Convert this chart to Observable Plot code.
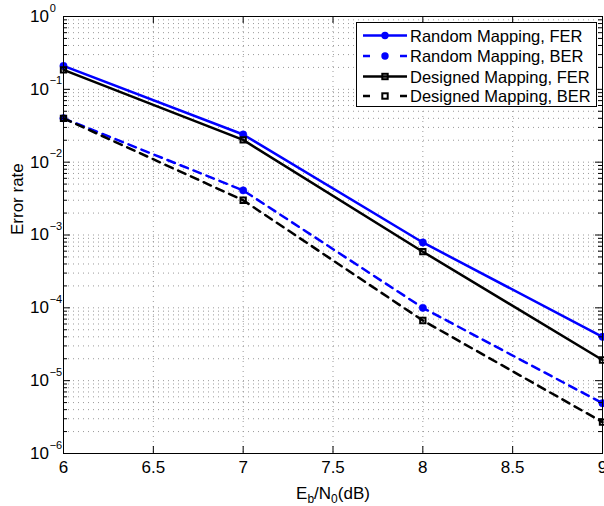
<!DOCTYPE html>
<html>
<head>
<meta charset="utf-8">
<script src="https://cdn.jsdelivr.net/npm/d3@7"></script>
<script src="https://cdn.jsdelivr.net/npm/@observablehq/plot@0.6"></script>
<style>
  html, body { margin: 0; padding: 0; background: white; }
  #wrap { position: relative; width: 604px; height: 506px; font-family: 'Liberation Sans', Arial, sans-serif; }
  #legend { position: absolute; left: 356px; top: 22px; width: 241px; height: 85px; box-sizing: border-box;
            border: 1px solid #000; background: #fff; }
  #legend svg { position: absolute; left: 0; top: 0; }
  .lg { position: absolute; left: 53px; font-size: 16.5px; line-height: 20px; white-space: nowrap; color: #000; }
  #xlabel { position: absolute; left: 233px; width: 200px; top: 485px; height: 21px; text-align: center; font-size: 17px; line-height: 17px; color: #000; white-space: nowrap; }
  #xlabel .sb { font-size: 12px; vertical-align: -4px; line-height: 12px; }
</style>
</head>
<body>
<div id="wrap"></div>
<script>
// ---- data ----
const ebn0 = [6, 7, 8, 9];
const randomFER   = [0.21, 0.024, 7.9e-4, 4.0e-5];
const randomBER   = [0.040, 0.0041, 1.0e-4, 4.9e-6];
const designedFER = [0.185, 0.0202, 5.9e-4, 1.92e-5];
const designedBER = [0.040, 0.0030, 6.7e-5, 2.7e-6];

const seriesNames = ["Random Mapping, FER", "Random Mapping, BER", "Designed Mapping, FER", "Designed Mapping, BER"];

const xTicks = [6, 6.5, 7, 7.5, 8, 8.5, 9];
const xTickLabels = ["6", "6.5", "7", "7.5", "8", "8.5", "9"];
const yExponents = [0, -1, -2, -3, -4, -5, -6];
const yTickLabelBase = "10";

// ---- layout ----
const W = 604, H = 506, mL = 63, mR = 2, mT = 16, mB = 53;
const frameW = W - mL - mR, frameH = H - mT - mB;

const yMajor = yExponents.map(e => Math.pow(10, e));
const yMinor = [];
for (const e of yExponents) if (e < 0) for (let m = 2; m <= 9; m++) yMinor.push(m * Math.pow(10, e));

const mk = (vals, s) => ebn0.map((x, i) => ({series: s, x, y: vals[i]}));
const rFER = mk(randomFER, seriesNames[0]);
const rBER = mk(randomBER, seriesNames[1]);
const dFER = mk(designedFER, seriesNames[2]);
const dBER = mk(designedBER, seriesNames[3]);

const blue = "#0000ff", black = "#000000";
const gridStyle = {stroke: "#9a9a9a", strokeOpacity: 1, strokeWidth: 1, strokeDasharray: "1,4"};
const supText = e => e === 0 ? "0" : "\u2212" + (-e);

const chart = Plot.plot({
  width: W, height: H,
  marginLeft: mL, marginRight: mR, marginTop: mT, marginBottom: mB,
  style: {fontFamily: "'Liberation Sans', Arial, sans-serif", background: "white", color: "black", overflow: "visible"},
  x: {domain: [6, 9], axis: null},
  y: {type: "log", domain: [1e-6, 1], axis: null},
  marks: [
    Plot.gridX(xTicks.slice(1, -1), gridStyle),
    Plot.gridY(yMinor.concat(yMajor.slice(1, -1)), gridStyle),
    // series
    Plot.line(rFER, {x: "x", y: "y", stroke: blue, strokeWidth: 2.5}),
    Plot.dot(rFER, {x: "x", y: "y", r: 3.7, fill: blue, stroke: blue, strokeWidth: 0.5}),
    Plot.line(rBER, {x: "x", y: "y", stroke: blue, strokeWidth: 2.5, strokeDasharray: "8,6"}),
    Plot.dot(rBER, {x: "x", y: "y", r: 3.7, fill: blue, stroke: blue, strokeWidth: 0.5}),
    Plot.line(dFER, {x: "x", y: "y", stroke: black, strokeWidth: 2.5}),
    Plot.dot(dFER, {x: "x", y: "y", symbol: "square", r: 3, fill: "none", stroke: black, strokeWidth: 2}),
    Plot.line(dBER, {x: "x", y: "y", stroke: black, strokeWidth: 2.5, strokeDasharray: "8,6"}),
    Plot.dot(dBER, {x: "x", y: "y", symbol: "square", r: 3, fill: "none", stroke: black, strokeWidth: 2}),
    Plot.frame({stroke: black, strokeWidth: 1}),
    // inward ticks
    Plot.tickX(xTicks, {x: d => d, stroke: black, insetTop: frameH - 7}),
    Plot.tickX(xTicks, {x: d => d, stroke: black, insetBottom: frameH - 7}),
    Plot.tickY(yMajor, {y: d => d, stroke: black, insetRight: frameW - 7}),
    Plot.tickY(yMajor, {y: d => d, stroke: black, insetLeft: frameW - 7}),
    Plot.tickY(yMinor, {y: d => d, stroke: black, insetRight: frameW - 4}),
    Plot.tickY(yMinor, {y: d => d, stroke: black, insetLeft: frameW - 4}),
    // tick labels
    Plot.text(xTicks, {x: d => d, frameAnchor: "bottom", text: (d, i) => xTickLabels[i], dy: 14.5, fontSize: 17, lineAnchor: "middle", fill: black}),
    Plot.text(yMajor, {y: d => d, frameAnchor: "left", text: () => yTickLabelBase, textAnchor: "end", dx: -14.5, fontSize: 17, lineAnchor: "middle", fill: black}),
    Plot.text(yMajor, {y: d => d, frameAnchor: "left", text: (d, i) => supText(yExponents[i]), textAnchor: "start", dx: -13.8, dy: -8.5, fontSize: 11, lineAnchor: "middle", fill: black}),
    // y label
    Plot.text(["Error rate"], {frameAnchor: "left", text: d => d, rotate: -90, dx: -46, fontSize: 17, lineAnchor: "middle", fill: black})
  ]
});

const wrap = document.getElementById("wrap");
wrap.appendChild(chart);

// x label with subscripts
const xl = document.createElement("div");
xl.id = "xlabel";
xl.innerHTML = 'E<span class="sb">b</span>/N<span class="sb">0</span>(dB)';
wrap.appendChild(xl);

// legend
const legendItems = [
  {name: seriesNames[0], color: blue, dash: null, marker: "circle"},
  {name: seriesNames[1], color: blue, dash: "7,30", marker: "circle"},
  {name: seriesNames[2], color: black, dash: null, marker: "square"},
  {name: seriesNames[3], color: black, dash: "7,30", marker: "square"}
];
const lg = document.createElement("div");
lg.id = "legend";
const ns = "http://www.w3.org/2000/svg";
const lsvg = document.createElementNS(ns, "svg");
lsvg.setAttribute("width", 239); lsvg.setAttribute("height", 83);
const rowY = [12.5, 33, 53.5, 73];
legendItems.forEach((it, i) => {
  const y = rowY[i];
  const ln = document.createElementNS(ns, "line");
  ln.setAttribute("x1", 6); ln.setAttribute("x2", 50);
  ln.setAttribute("y1", y); ln.setAttribute("y2", y);
  ln.setAttribute("stroke", it.color); ln.setAttribute("stroke-width", 2.5);
  if (it.dash) ln.setAttribute("stroke-dasharray", it.dash);
  lsvg.appendChild(ln);
  if (it.marker === "circle") {
    const c = document.createElementNS(ns, "circle");
    c.setAttribute("cx", 28); c.setAttribute("cy", y); c.setAttribute("r", 3.7);
    c.setAttribute("fill", it.color);
    lsvg.appendChild(c);
  } else {
    const r = document.createElementNS(ns, "rect");
    r.setAttribute("x", 28 - 2.7); r.setAttribute("y", y - 2.7);
    r.setAttribute("width", 5.4); r.setAttribute("height", 5.4);
    r.setAttribute("fill", "none"); r.setAttribute("stroke", it.color); r.setAttribute("stroke-width", 2);
    lsvg.appendChild(r);
  }
  const t = document.createElement("span");
  t.className = "lg";
  t.style.top = (y - 10) + "px";
  t.textContent = it.name;
  lg.appendChild(t);
});
lg.insertBefore(lsvg, lg.firstChild);
wrap.appendChild(lg);
</script>
</body>
</html>
